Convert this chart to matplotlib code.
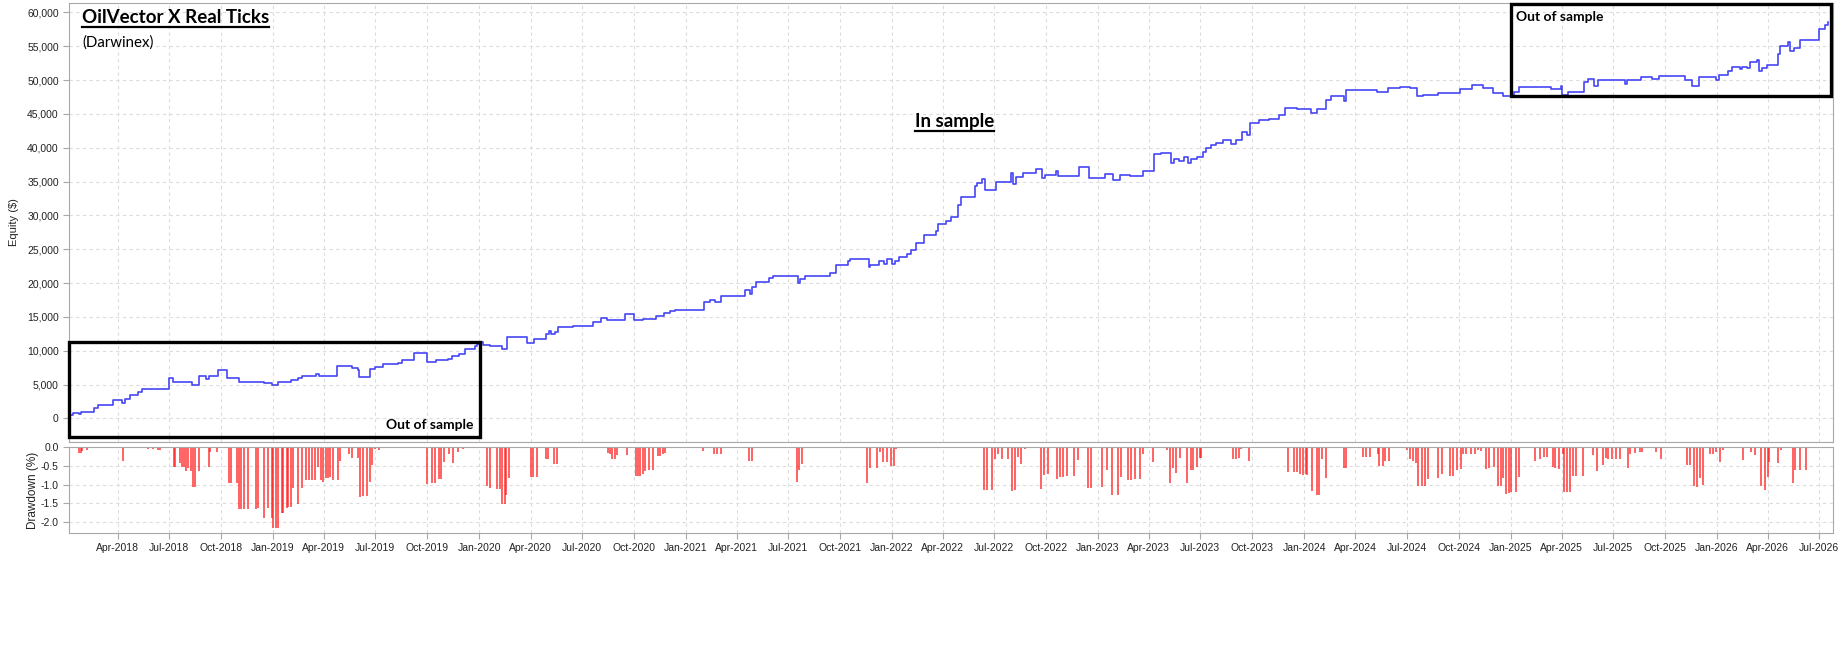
import numpy as np
import pandas as pd
import matplotlib
matplotlib.use("Agg")
import matplotlib.pyplot as plt
import matplotlib.dates as mdates
from matplotlib.patches import Rectangle
from matplotlib.lines import Line2D
from matplotlib.ticker import FuncFormatter, MultipleLocator

# equity curve (step changes)
eq_dates = [
    "2018-01-05", "2018-01-11", "2018-01-22", "2018-01-26", "2018-02-04", "2018-02-18",
    "2018-02-25", "2018-03-24", "2018-04-08", "2018-04-13", "2018-04-22", "2018-04-30",
    "2018-05-07", "2018-05-13", "2018-06-30", "2018-07-07", "2018-08-10", "2018-08-22",
    "2018-09-05", "2018-09-10", "2018-09-25", "2018-10-09", "2018-10-12", "2018-11-02",
    "2018-12-16", "2018-12-30", "2019-01-09", "2019-02-02", "2019-02-15", "2019-02-22",
    "2019-03-18", "2019-03-23", "2019-04-10", "2019-04-24", "2019-05-21", "2019-06-01",
    "2019-06-03", "2019-06-21", "2019-07-01", "2019-07-15", "2019-08-11", "2019-08-17",
    "2019-09-07", "2019-10-01", "2019-10-17", "2019-11-07", "2019-11-14", "2019-11-27",
    "2019-12-07", "2019-12-24", "2019-12-29", "2020-01-03", "2020-01-07", "2020-01-20",
    "2020-02-10", "2020-02-20", "2020-03-26", "2020-04-07", "2020-04-29", "2020-05-04",
    "2020-05-07", "2020-05-15", "2020-05-20", "2020-06-15", "2020-07-20", "2020-08-04",
    "2020-08-14", "2020-09-16", "2020-10-02", "2020-10-17", "2020-11-09", "2020-11-24",
    "2020-12-04", "2020-12-12", "2021-02-02", "2021-02-12", "2021-02-21", "2021-03-05",
    "2021-04-16", "2021-04-24", "2021-04-29", "2021-05-05", "2021-05-29", "2021-06-05",
    "2021-07-18", "2021-07-22", "2021-07-31", "2021-09-14", "2021-09-24", "2021-10-16",
    "2021-10-19", "2021-11-21", "2021-11-24", "2021-12-09", "2021-12-18", "2021-12-24",
    "2022-01-01", "2022-01-07", "2022-01-14", "2022-01-28", "2022-02-04", "2022-02-12",
    "2022-02-27", "2022-03-20", "2022-03-24", "2022-04-06", "2022-04-15", "2022-04-28",
    "2022-05-04", "2022-05-28", "2022-05-31", "2022-06-09", "2022-06-15", "2022-07-04",
    "2022-07-30", "2022-08-04", "2022-08-09", "2022-08-22", "2022-09-13", "2022-09-23",
    "2022-09-29", "2022-10-19", "2022-10-22", "2022-11-29", "2022-12-16", "2023-01-13",
    "2023-01-27", "2023-02-09", "2023-02-26", "2023-03-21", "2023-04-11", "2023-04-23",
    "2023-05-10", "2023-05-16", "2023-05-25", "2023-06-03", "2023-06-09", "2023-06-15",
    "2023-06-26", "2023-07-06", "2023-07-11", "2023-07-20", "2023-07-29", "2023-08-10",
    "2023-08-24", "2023-09-03", "2023-09-13", "2023-09-22", "2023-09-27", "2023-10-13",
    "2023-10-31", "2023-11-18", "2023-11-28", "2023-12-20", "2024-01-13", "2024-01-24",
    "2024-02-09", "2024-02-18", "2024-03-11", "2024-03-15", "2024-05-09", "2024-05-29",
    "2024-06-19", "2024-07-07", "2024-07-19", "2024-07-30", "2024-08-25", "2024-10-03",
    "2024-10-25", "2024-11-12", "2024-11-30", "2024-12-18", "2025-01-01", "2025-01-07",
    "2025-01-15", "2025-03-14", "2025-03-31", "2025-04-01", "2025-04-13", "2025-05-10",
    "2025-05-18", "2025-05-29", "2025-06-04", "2025-07-22", "2025-07-25", "2025-08-19",
    "2025-09-09", "2025-09-21", "2025-11-06", "2025-11-18", "2025-11-30", "2025-12-30",
    "2026-01-05", "2026-01-21", "2026-01-27", "2026-02-11", "2026-02-14", "2026-02-23",
    "2026-03-01", "2026-03-13", "2026-03-16", "2026-03-22", "2026-03-30", "2026-04-19",
    "2026-04-23", "2026-05-07", "2026-05-10", "2026-05-17", "2026-05-28", "2026-07-01",
    "2026-07-11", "2026-07-16",
]
eq_vals = [
    500, 850, 650, 1000, 900, 1500,
    1900, 2700, 2300, 2900, 3400, 3500,
    3900, 4300, 6000, 5400, 5000, 6200,
    5800, 6300, 7100, 7200, 6000, 5400,
    5200, 5000, 5300, 5600, 5900, 6200,
    6600, 6200, 6300, 7700, 7400, 7200,
    6100, 7300, 7600, 8000, 8200, 8600,
    9600, 8400, 8600, 8800, 9200, 9500,
    10300, 10700, 11000, 11300, 10800, 10700,
    10200, 12000, 11200, 11700, 12500, 12900,
    12500, 12700, 13500, 13700, 14300, 14800,
    14500, 15400, 14500, 14700, 15100, 15600,
    15900, 16000, 17200, 17500, 17200, 18100,
    18900, 18400, 19400, 20200, 20700, 21100,
    20000, 20600, 21100, 21500, 22700, 23300,
    23500, 22300, 22600, 23200, 22800, 23500,
    22800, 23300, 23900, 24300, 24900, 25900,
    27100, 27700, 28800, 29200, 29800, 31500,
    32700, 34400, 34850, 35350, 33800, 35000,
    36200, 34600, 35700, 36300, 36900, 35500,
    35900, 36500, 35800, 37100, 35600, 36100,
    35200, 35900, 35800, 36500, 39100, 39200,
    37700, 38300, 38100, 38700, 37700, 38300,
    38700, 39300, 39900, 40400, 40700, 41100,
    40500, 41100, 42400, 41900, 43700, 44100,
    44300, 44850, 45900, 45800, 45100, 45700,
    47100, 47600, 46900, 48600, 48200, 48800,
    49000, 48800, 47600, 47800, 48100, 48700,
    49300, 48800, 48100, 47700, 47600, 48200,
    49000, 48700, 49200, 47800, 48200, 49700,
    50100, 49200, 50000, 49400, 50000, 50500,
    50200, 50600, 50000, 49100, 50400, 50000,
    50700, 51300, 51900, 51600, 52000, 51800,
    52700, 53000, 51300, 51800, 52300, 53900,
    55000, 55600, 54300, 54800, 55900, 57600,
    58100, 58600,
]

# drawdown bars (%)
dd_dates = [
    "2018-01-22", "2018-01-25", "2018-01-27", "2018-02-06", "2018-02-18", "2018-04-10",
    "2018-04-13", "2018-05-24", "2018-06-03", "2018-06-11", "2018-06-15", "2018-06-24",
    "2018-07-09", "2018-07-12", "2018-07-20", "2018-07-24", "2018-07-27", "2018-07-30",
    "2018-08-03", "2018-08-08", "2018-08-13", "2018-08-16", "2018-08-23", "2018-09-09",
    "2018-09-12", "2018-09-23", "2018-10-15", "2018-10-18", "2018-10-29", "2018-11-02",
    "2018-11-06", "2018-11-10", "2018-11-18", "2018-12-01", "2018-12-06", "2018-12-16",
    "2018-12-23", "2018-12-30", "2019-01-01", "2019-01-06", "2019-01-10", "2019-01-16",
    "2019-01-19", "2019-01-25", "2019-01-28", "2019-02-02", "2019-02-05", "2019-02-15",
    "2019-02-22", "2019-03-01", "2019-03-06", "2019-03-11", "2019-03-16", "2019-03-21",
    "2019-03-27", "2019-03-31", "2019-04-05", "2019-04-09", "2019-04-12", "2019-04-17",
    "2019-04-26", "2019-04-29", "2019-05-15", "2019-05-20", "2019-06-01", "2019-06-04",
    "2019-06-09", "2019-06-16", "2019-06-21", "2019-06-26", "2019-07-01", "2019-07-08",
    "2019-08-31", "2019-09-10", "2019-10-01", "2019-10-09", "2019-10-14", "2019-10-21",
    "2019-10-26", "2019-10-31", "2019-11-09", "2019-11-15", "2019-11-24", "2019-12-04",
    "2020-01-14", "2020-01-20", "2020-02-02", "2020-02-06", "2020-02-11", "2020-02-15",
    "2020-02-18", "2020-02-23", "2020-03-13", "2020-03-23", "2020-04-01", "2020-04-05",
    "2020-04-12", "2020-04-28", "2020-05-02", "2020-05-13", "2020-05-18",
    "2020-08-17", "2020-08-20", "2020-08-24", "2020-08-28", "2020-09-01", "2020-09-18",
    "2020-10-04", "2020-10-08", "2020-10-11", "2020-10-17", "2020-10-21", "2020-10-28",
    "2020-11-04", "2020-11-12", "2020-11-17", "2020-11-21", "2020-11-25", "2021-01-05",
    "2021-01-14", "2021-01-31", "2021-02-20", "2021-02-26", "2021-03-04", "2021-03-12",
    "2021-03-24", "2021-04-22", "2021-04-28", "2021-07-17", "2021-07-20", "2021-07-25",
    "2021-08-12", "2021-08-26", "2021-11-18", "2021-11-23", "2021-12-06", "2021-12-10",
    "2021-12-16", "2021-12-23", "2021-12-31", "2022-01-05", "2022-01-09",
    "2022-06-13", "2022-06-19", "2022-06-27", "2022-07-03", "2022-07-08", "2022-07-15",
    "2022-07-25", "2022-08-01", "2022-08-07", "2022-08-12", "2022-08-18", "2022-08-24",
    "2022-09-22", "2022-09-27", "2022-10-05", "2022-10-20", "2022-10-25", "2022-10-31",
    "2022-11-07", "2022-11-19", "2022-11-27", "2022-12-14", "2022-12-20", "2023-01-08",
    "2023-01-17", "2023-01-26", "2023-02-06", "2023-02-10", "2023-02-23", "2023-02-28",
    "2023-03-07", "2023-03-17", "2023-03-22", "2023-04-08", "2023-05-03", "2023-05-09",
    "2023-05-14", "2023-05-19", "2023-05-27", "2023-06-07", "2023-06-14", "2023-06-18",
    "2023-06-25", "2023-06-30", "2023-07-03",
    "2023-08-28", "2023-09-03", "2023-09-08", "2023-09-12", "2023-09-16", "2023-09-25",
    "2023-12-03", "2023-12-14", "2023-12-19", "2023-12-25", "2023-12-30", "2024-01-04",
    "2024-01-07", "2024-01-15", "2024-01-23", "2024-01-28", "2024-02-01", "2024-02-09",
    "2024-02-16", "2024-03-11", "2024-03-16", "2024-04-15", "2024-04-20", "2024-04-27",
    "2024-05-10", "2024-05-13", "2024-05-19", "2024-05-24", "2024-05-30", "2024-07-02",
    "2024-07-07", "2024-07-12", "2024-07-18", "2024-07-21", "2024-07-27", "2024-08-02",
    "2024-08-07", "2024-08-26", "2024-09-01", "2024-09-16", "2024-09-21", "2024-09-27",
    "2024-10-04", "2024-10-09", "2024-10-13", "2024-10-23", "2024-10-29", "2024-11-04",
    "2024-11-09", "2024-11-18", "2024-11-24", "2024-12-02", "2024-12-10", "2024-12-14",
    "2024-12-19", "2024-12-23", "2024-12-28", "2025-01-01", "2025-01-10", "2025-01-15",
    "2025-02-13", "2025-02-21", "2025-02-28", "2025-03-07", "2025-03-16", "2025-03-21",
    "2025-03-28", "2025-04-03", "2025-04-05", "2025-04-10", "2025-04-16", "2025-04-21",
    "2025-04-27", "2025-05-09", "2025-05-26", "2025-06-02", "2025-06-13", "2025-06-18",
    "2025-06-23", "2025-06-29", "2025-07-06", "2025-07-13", "2025-07-28", "2025-08-01",
    "2025-08-09", "2025-08-17", "2025-08-22", "2025-09-15", "2025-09-24", "2025-11-09",
    "2025-11-14", "2025-11-21", "2025-11-27", "2025-12-02", "2025-12-08", "2025-12-20",
    "2025-12-25", "2025-12-31", "2026-01-06", "2026-01-11", "2026-02-16", "2026-03-03",
    "2026-03-10", "2026-03-21", "2026-03-27", "2026-04-01", "2026-04-04", "2026-04-19",
    "2026-04-25", "2026-05-16", "2026-05-20", "2026-05-29", "2026-06-07",
]
dd_vals = [
    -0.16, -0.16, -0.10, -0.07, -0.04, -0.38,
    -0.04, -0.05, -0.05, -0.07, -0.07, -0.03,
    -0.52, -0.52, -0.43, -0.52, -0.52, -0.63,
    -0.56, -0.63, -1.06, -1.06, -0.63, -0.54,
    -0.13, -0.13, -0.97, -0.97, -0.97, -1.66,
    -1.66, -1.66, -1.66, -1.66, -1.63, -1.90,
    -1.63, -1.90, -2.17, -2.17, -2.17, -1.77,
    -1.77, -1.63, -1.61, -1.61, -1.10, -1.53,
    -1.10, -0.88, -0.88, -0.88, -0.88, -0.54,
    -0.88, -0.92, -0.83, -0.83, -0.79, -0.89,
    -0.89, -0.38, -0.18, -0.29, -0.28, -1.34,
    -1.31, -1.31, -0.94, -0.47, -0.05, -0.07,
    -0.03, -0.03, -0.99, -0.96, -0.96, -0.86,
    -0.86, -0.40, -0.19, -0.43, -0.13, -0.05,
    -1.05, -1.10, -1.12, -1.12, -1.52, -1.52,
    -1.28, -0.83, -0.01, -0.03, -0.79, -0.79,
    -0.79, -0.32, -0.32, -0.45, -0.45,
    -0.16, -0.18, -0.33, -0.33, -0.22, -0.22,
    -0.77, -0.77, -0.77, -0.72, -0.64, -0.61,
    -0.61, -0.25, -0.25, -0.18, -0.15, -0.04,
    -0.03, -0.12, -0.19, -0.19, -0.19, -0.03,
    -0.04, -0.38, -0.38, -0.94, -0.60, -0.46,
    -0.02, -0.02, -0.95, -0.57, -0.57, -0.13,
    -0.41, -0.41, -0.51, -0.51, -0.06,
    -1.14, -1.14, -1.14, -0.32, -0.18, -0.31,
    -0.31, -1.17, -1.14, -0.26, -0.44, -0.05,
    -1.12, -0.75, -0.72, -0.86, -0.80, -0.79,
    -0.77, -0.77, -0.35, -1.10, -1.10, -1.07,
    -0.60, -1.27, -1.27, -0.80, -0.89, -0.88,
    -0.84, -0.84, -0.18, -0.40, -0.09, -0.96,
    -0.57, -0.68, -0.28, -0.96, -0.61, -0.61,
    -0.53, -0.28, -0.28,
    -0.33, -0.33, -0.28, -0.05, -0.03, -0.38,
    -0.66, -0.66, -0.66, -0.72, -0.75, -0.72,
    -0.75, -1.16, -1.27, -1.27, -0.33, -0.83,
    -0.04, -0.57, -0.57, -0.26, -0.26, -0.26,
    -0.19, -0.51, -0.51, -0.37, -0.37, -0.09,
    -0.31, -0.37, -0.42, -1.04, -1.04, -1.04,
    -0.85, -0.83, -0.73, -0.76, -0.76, -0.61,
    -0.59, -0.19, -0.19, -0.19, -0.19, -0.09,
    -0.11, -0.59, -0.57, -0.54, -1.03, -1.03,
    -0.83, -1.25, -1.23, -1.21, -1.21, -0.79,
    -0.37, -0.33, -0.26, -0.26, -0.54, -0.57,
    -0.59, -0.18, -1.21, -1.21, -1.21, -0.77,
    -0.77, -0.77, -0.22, -0.64, -0.48, -0.28,
    -0.31, -0.31, -0.31, -0.33, -0.57, -0.18,
    -0.16, -0.13, -0.13, -0.13, -0.33, -0.48,
    -0.48, -1.04, -1.06, -0.83, -1.00, -0.18,
    -0.18, -0.13, -0.40, -0.07, -0.35, -0.13,
    -0.22, -1.04, -1.14, -0.79, -0.40, -0.42,
    -0.09, -0.95, -0.61, -0.61, -0.61,
]

eq_dates = pd.to_datetime(eq_dates)
dd_dates = pd.to_datetime(dd_dates)

x_start = pd.Timestamp("2018-01-05")
x_end = pd.Timestamp("2026-07-25")

label_font = "Liberation Sans"
note_font = "Lato"

fig = plt.figure(figsize=(18.42, 6.48), dpi=100)
ax = fig.add_axes([0.0376, 0.3179, 0.9573, 0.6775])
ax_dd = fig.add_axes([0.0376, 0.1775, 0.9573, 0.1327], sharex=ax)

grid_kw = dict(color="#dcdcdc", linestyle=(0, (3, 3)), linewidth=0.8)
for a in (ax, ax_dd):
    a.grid(True, **grid_kw)
    a.set_axisbelow(True)
    for s in a.spines.values():
        s.set_color("#a8a8a8")
    a.tick_params(colors="#a8a8a8", labelcolor="#222222", labelsize=7.5, length=4)

# equity
ax.plot(eq_dates, eq_vals, drawstyle="steps-post", color="#4646f5", linewidth=1.2)
ax.set_xlim(x_start, x_end)
ax.set_ylim(-3500, 61400)
ax.yaxis.set_major_locator(MultipleLocator(5000))
ax.yaxis.set_major_formatter(FuncFormatter(lambda v, p: f"{v:,.0f}"))
ax.tick_params(axis="x", labelbottom=False, length=0)
ax.set_ylabel("Equity ($)", fontsize=8, family=label_font, color="#222222")
ax.yaxis.set_label_coords(-0.0283, 0.5)

# drawdown
ax_dd.vlines(dd_dates, dd_vals, 0, color="#ff1f1f", linewidth=1.15, alpha=0.85)
ax_dd.set_ylim(-2.29, 0.0)
ax_dd.yaxis.set_major_locator(MultipleLocator(0.5))
ax_dd.yaxis.set_major_formatter(FuncFormatter(lambda v, p: f"{v:.1f}"))
ax_dd.xaxis.set_major_locator(mdates.MonthLocator(bymonth=[1, 4, 7, 10]))
ax_dd.xaxis.set_major_formatter(mdates.DateFormatter("%b-%Y"))
ax_dd.set_ylabel("Drawdown (%)", fontsize=8.5, family=label_font, color="#222222")
ax_dd.yaxis.set_label_coords(-0.017, 0.5)
for lab in ax_dd.get_xticklabels() + ax_dd.get_yticklabels() + ax.get_yticklabels():
    lab.set_fontfamily(label_font)

# out of sample boxes
box_l = (pd.Timestamp("2018-01-05"), pd.Timestamp("2020-01-02"), -2800, 11270)
box_r = (pd.Timestamp("2025-01-01"), pd.Timestamp("2026-07-23"), 47700, 61300)
for d0, d1, y0, y1 in (box_l, box_r):
    x0 = mdates.date2num(d0)
    x1 = mdates.date2num(d1)
    ax.add_patch(Rectangle((x0, y0), x1 - x0, y1 - y0, fill=False,
                           edgecolor="black", linewidth=2.4, clip_on=False, zorder=5))

ax.text(pd.Timestamp("2019-12-22"), -950, "Out of sample", ha="right", va="center",
        fontsize=10, fontweight="bold", family=note_font)
ax.text(pd.Timestamp("2025-01-11"), 59300, "Out of sample", ha="left", va="center",
        fontsize=10, fontweight="bold", family=note_font)

t_in = ax.text(pd.Timestamp("2022-04-22"), 43900, "In sample", ha="center", va="center",
               fontsize=13.5, fontweight="bold", family=note_font)
t_title = ax.text(0.0072, 0.987, "OilVector X Real Ticks", transform=ax.transAxes,
                  ha="left", va="top", fontsize=13.5, fontweight="bold", family=note_font)
ax.text(0.0072, 0.926, "(Darwinex)", transform=ax.transAxes, ha="left", va="top",
        fontsize=10.8, family=note_font)

# underline the title and "In sample"
fig.canvas.draw()
inv = fig.transFigure.inverted()
for t in (t_title, t_in):
    bb = t.get_window_extent()
    (fx0, fy0), (fx1, fy1) = inv.transform([(bb.x0, bb.y0 - 1), (bb.x1, bb.y0 - 1)])
    fig.add_artist(Line2D([fx0, fx1], [fy0, fy1], color="black", linewidth=1.6))

fig.savefig("out.png", dpi=100)
